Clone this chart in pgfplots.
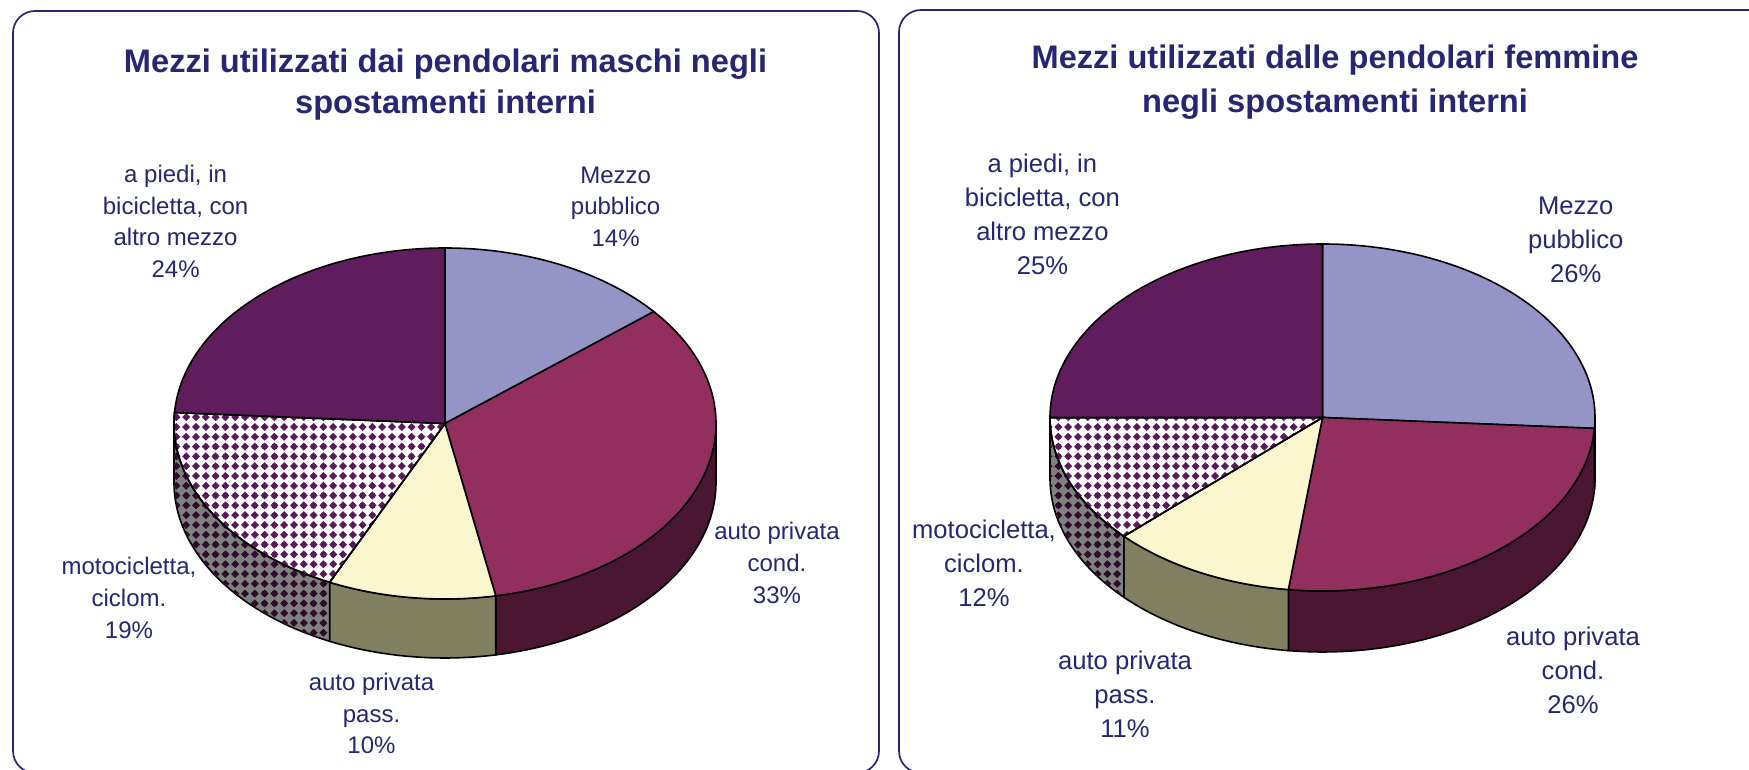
\documentclass[border=0pt]{standalone}
\usepackage{pgfplots}
\pgfplotsset{compat=1.18}
\usepgfplotslibrary{fillbetween}
\usetikzlibrary{patterns.meta}
\usepackage{fontspec}
\setmainfont{Liberation Sans}

\definecolor{navy}{HTML}{262673}
\definecolor{cMezzo}{HTML}{9494C6}
\definecolor{cCond}{HTML}{922F5E}
\definecolor{cCondS}{HTML}{4B1632}
\definecolor{cPass}{HTML}{FAF7CF}
\definecolor{cPassS}{HTML}{808060}
\definecolor{cPiedi}{HTML}{5F1D5E}
\definecolor{cMoto}{HTML}{5A1A59}
\definecolor{cMotoS}{HTML}{2E0D2B}
\definecolor{cMotoSbg}{HTML}{808080}

\tikzdeclarepattern{
  name=diamonds,
  type=uncolored,
  bottom left={(-2.45bp,-2.45bp)},
  top right={(2.45bp,2.45bp)},
  tile size={(4.9bp,4.9bp)},
  code={\fill (0,-2.0bp) -- (0.6bp,-1.4bp) -- (1.4bp,-0.6bp) -- (2.0bp,0) -- (1.4bp,0.6bp) -- (0.6bp,1.4bp) -- (0,2.0bp) -- (-0.6bp,1.4bp) -- (-1.4bp,0.6bp) -- (-2.0bp,0) -- (-1.4bp,-0.6bp) -- (-0.6bp,-1.4bp) -- cycle;
        \fill (-1.1bp,-1.1bp) rectangle (1.1bp,1.1bp);}
}

% top wedge: cx cy rx ry from to style
\newcommand{\pieTop}[7]{%
  \addplot[#7, draw=black, line width=0.8bp, domain=#5:#6, samples=90]
    ({#1+#3*sin(x)},{#2-#4*cos(x)}) -- (axis cs:#1,#2) -- cycle;}
% side face: cx cy rx ry depth from to name style
\newcommand{\pieSide}[9]{%
  \addplot[draw=none, name path=#8t, domain=#6:#7, samples=60]
    ({#1+#3*sin(x)},{#2-#4*cos(x)});
  \addplot[draw=none, name path=#8b, domain=#6:#7, samples=60]
    ({#1+#3*sin(x)},{#2-#4*cos(x)+#5});
  \addplot[#9, draw=black, line width=0.8bp] fill between[of=#8t and #8b];}

\newcommand{\titlefont}{\fontsize{16.3bp}{20.5bp}\selectfont\bfseries}
\newcommand{\lfont}{\fontsize{12bp}{15.8bp}\selectfont}
\newcommand{\rfont}{\fontsize{12.8bp}{17bp}\selectfont}

\begin{document}
\begin{tikzpicture}
\begin{axis}[name=ax, scale only axis, width=874.5bp, height=385bp,
  xmin=0, xmax=1749, ymin=0, ymax=770, y dir=reverse, hide axis, clip=true]

% panels
\draw[navy, line width=0.85bp, rounded corners=11bp] (axis cs:13,11) rectangle (axis cs:879,773);
\draw[navy, line width=0.85bp, rounded corners=11bp] (axis cs:899,10) rectangle (axis cs:1790,773);

% ===== male: Mezzo 14, cond 33, pass 10, moto 19, piedi 24
\pieSide{445}{423.5}{271}{175.5}{59}{90}{3.6*(14+33)}{mB}{fill=cCondS}
\pieSide{445}{423.5}{271}{175.5}{59}{3.6*(14+33)}{3.6*(14+33+10)}{mC}{fill=cPassS}
\pieSide{445}{423.5}{271}{175.5}{59}{3.6*(14+33+10)}{270}{mD}{fill=cMotoSbg, postaction={pattern=diamonds, pattern color=cMotoS}}
\pieTop{445}{423.5}{271}{175.5}{0}{3.6*14}{fill=cMezzo}
\pieTop{445}{423.5}{271}{175.5}{3.6*14}{3.6*(14+33)}{fill=cCond}
\pieTop{445}{423.5}{271}{175.5}{3.6*(14+33)}{3.6*(14+33+10)}{fill=cPass}
\pieTop{445}{423.5}{271}{175.5}{3.6*(14+33+10)}{3.6*(14+33+10+19)}{fill=white, postaction={pattern=diamonds, pattern color=cMoto}}
\pieTop{445}{423.5}{271}{175.5}{3.6*(14+33+10+19)}{3.6*(14+33+10+19+24)}{fill=cPiedi}

% ===== female: Mezzo 26, cond 26, pass 11, moto 12, piedi 25
\pieSide{1322.5}{417.5}{272.5}{173.5}{61}{90}{3.6*26}{fA}{fill=cMezzo!60!black}
\pieSide{1322.5}{417.5}{272.5}{173.5}{61}{3.6*26}{3.6*(26+26)}{fB}{fill=cCondS}
\pieSide{1322.5}{417.5}{272.5}{173.5}{61}{3.6*(26+26)}{3.6*(26+26+11)}{fC}{fill=cPassS}
\pieSide{1322.5}{417.5}{272.5}{173.5}{61}{3.6*(26+26+11)}{3.6*(26+26+11+12)}{fD}{fill=cMotoSbg, postaction={pattern=diamonds, pattern color=cMotoS}}
\pieTop{1322.5}{417.5}{272.5}{173.5}{0}{3.6*26}{fill=cMezzo}
\pieTop{1322.5}{417.5}{272.5}{173.5}{3.6*26}{3.6*(26+26)}{fill=cCond}
\pieTop{1322.5}{417.5}{272.5}{173.5}{3.6*(26+26)}{3.6*(26+26+11)}{fill=cPass}
\pieTop{1322.5}{417.5}{272.5}{173.5}{3.6*(26+26+11)}{3.6*(26+26+11+12)}{fill=white, postaction={pattern=diamonds, pattern color=cMoto}}
\pieTop{1322.5}{417.5}{272.5}{173.5}{3.6*(26+26+11+12)}{3.6*(26+26+11+12+25)}{fill=cPiedi}

% titles
\node[font=\titlefont, text=navy, anchor=base] at (axis cs:445.5,72.7) {Mezzi utilizzati dai pendolari maschi negli};
\node[font=\titlefont, text=navy, anchor=base] at (axis cs:445.5,114) {spostamenti interni};
\node[font=\titlefont, text=navy, anchor=base] at (axis cs:1335,69) {Mezzi utilizzati dalle pendolari femmine};
\node[font=\titlefont, text=navy, anchor=base] at (axis cs:1335,113) {negli spostamenti interni};

% labels male
\node[font=\lfont, text=navy, align=center, inner sep=0pt] at (axis cs:615.6,206.5) {Mezzo\\pubblico\\14\%};
\node[font=\lfont, text=navy, align=center, inner sep=0pt] at (axis cs:175.6,221.5) {a piedi, in\\bicicletta, con\\altro mezzo\\24\%};
\node[font=\lfont, text=navy, align=center, inner sep=0pt] at (axis cs:777,563) {auto privata\\cond.\\33\%};
\node[font=\lfont, text=navy, align=center, inner sep=0pt] at (axis cs:129,598) {motocicletta,\\ciclom.\\19\%};
\node[font=\lfont, text=navy, align=center, inner sep=0pt] at (axis cs:371.5,713.5) {auto privata\\pass.\\10\%};

% labels female
\node[font=\rfont, text=navy, align=center, inner sep=0pt] at (axis cs:1575.7,240) {Mezzo\\pubblico\\26\%};
\node[font=\rfont, text=navy, align=center, inner sep=0pt] at (axis cs:1042.4,214) {a piedi, in\\bicicletta, con\\altro mezzo\\25\%};
\node[font=\rfont, text=navy, align=center, inner sep=0pt] at (axis cs:1573,670.5) {auto privata\\cond.\\26\%};
\node[font=\rfont, text=navy, align=center, inner sep=0pt] at (axis cs:984,563) {motocicletta,\\ciclom.\\12\%};
\node[font=\rfont, text=navy, align=center, inner sep=0pt] at (axis cs:1125,694.3) {auto privata\\pass.\\11\%};
\end{axis}
\pgfresetboundingbox
\path (ax.south west) rectangle (ax.north east);
\end{tikzpicture}
\end{document}
